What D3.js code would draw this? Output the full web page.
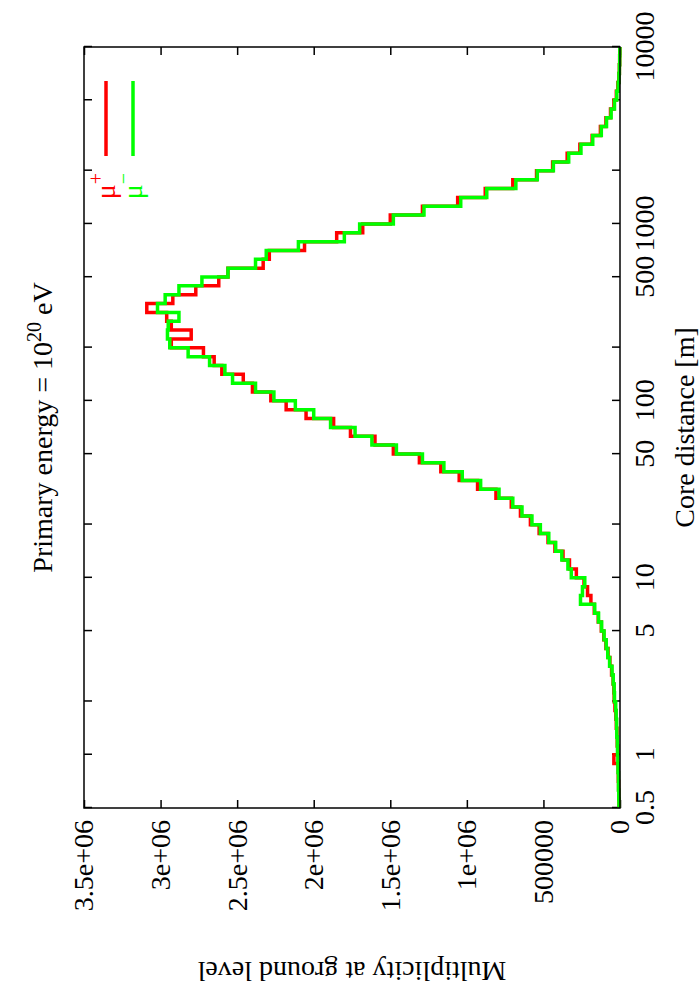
<!DOCTYPE html>
<html>
<head>
<meta charset="utf-8">
<script src="https://cdn.jsdelivr.net/npm/d3@7"></script>
<style>
body{margin:0;background:#fff}
svg text{font-family:"Liberation Serif","Times New Roman",serif}
</style>
</head>
<body>
<svg id="chart" width="700" height="1000"></svg>
<script>

// bin edges, log10 of core distance [m]
var logEdges = [-0.30,-0.25,-0.20,-0.15,-0.10,-0.05,0.00,0.05,0.10,0.15,
                0.20,0.25,0.30,0.35,0.40,0.45,0.50,0.55,0.60,0.65,
                0.70,0.75,0.80,0.85,0.90,0.95,1.00,1.05,1.10,1.15,
                1.20,1.25,1.30,1.35,1.40,1.45,1.50,1.55,1.60,1.65,
                1.70,1.75,1.80,1.85,1.90,1.95,2.00,2.05,2.10,2.15,
                2.20,2.25,2.30,2.35,2.40,2.45,2.50,2.55,2.60,2.65,
                2.70,2.75,2.80,2.85,2.90,2.95,3.00,3.05,3.10,3.15,
                3.20,3.25,3.30,3.35,3.40,3.45,3.50,3.55,3.60,3.65,
                3.70,3.75,3.80,3.85,3.90,3.95,4.00]

// multiplicity per bin, in thousands
var muPlus = [6,8,9,11,12,40,15,18,20,24,
              27,33,38,40,45,55,66,78,92,106,
              122,142,168,190,212,235,285,330,372,425,
              470,528,585,650,710,810,930,1050,1170,1310,
              1480,1600,1760,1870,2050,2180,2280,2400,2460,2600,
              2650,2720,2930,2800,2930,2960,3090,2920,2770,2620,
              2560,2330,2290,2060,1850,1680,1500,1290,1060,880,
              700,545,440,345,262,182,128,92,62,40,
              24,14,8,4,2,1]

var muMinus = [7,8,10,10,13,14,16,17,21,22,
               25,28,36,38,44,52,68,80,90,104,
               120,140,165,258,245,230,318,340,380,420,
               465,520,575,640,700,790,910,1030,1150,1290,
               1460,1620,1730,1890,2000,2120,2260,2380,2530,2580,
               2680,2820,2940,2955,2950,2880,3020,2970,2880,2730,
               2560,2380,2310,2100,1800,1700,1480,1280,1040,870,
               680,540,435,335,255,178,122,88,58,36,
               21,12,7,4,2,1]

var xTicks = [0.5,1,2,5,10,20,50,100,200,500,1000,2000,5000,10000]
var xTickLabels = ["0.5","1","","5","10","","50","100","","500","1000","","","10000"]
var yTicks = [0,500,1000,1500,2000,2500,3000,3500]
var yTickLabels = ["0","500000","1e+06","1.5e+06","2e+06","2.5e+06","3e+06","3.5e+06"]

var series = [
    {name:"\u03bc", sup:"+", color:"#ff0000", values:muPlus},
    {name:"\u03bc", sup:"\u2212", color:"#00ff00", values:muMinus}
]

// the whole plot is drawn landscape (1000 x 700) and turned a quarter left
var pLeft = 192, pRight = 953, pTop = 84, pBottom = 620

var svg = d3.select("#chart")
var g = svg.append("g").attr("transform","translate(0,1000) rotate(-90)")

var x = d3.scaleLog().domain([0.5,10000]).range([pLeft,pRight])
var y = d3.scaleLinear().domain([0,3500]).range([pBottom,pTop])

function styleAxis(a){
    a.select(".domain").remove()
    a.attr("font-size",28).attr("font-family","Liberation Serif, Times New Roman, serif")
    a.selectAll("line").attr("stroke","#000").attr("stroke-width",1.5)
    a.selectAll("text").attr("fill","#000")
}

g.append("g")
    .attr("transform","translate(0,"+pBottom+")")
    .call(d3.axisBottom(x).tickValues(xTicks)
        .tickFormat(function(d,i){return xTickLabels[i]})
        .tickSizeInner(-8).tickSizeOuter(0).tickPadding(14))
    .call(styleAxis)

g.append("g")
    .attr("transform","translate(0,"+pTop+")")
    .call(d3.axisTop(x).tickValues(xTicks).tickFormat("")
        .tickSizeInner(-8).tickSizeOuter(0))
    .call(styleAxis)

g.append("g")
    .attr("transform","translate("+pLeft+",0)")
    .call(d3.axisLeft(y).tickValues(yTicks)
        .tickFormat(function(d,i){return yTickLabels[i]})
        .tickSizeInner(-8).tickSizeOuter(0).tickPadding(12))
    .call(styleAxis)

g.append("g")
    .attr("transform","translate("+pRight+",0)")
    .call(d3.axisRight(y).tickValues(yTicks).tickFormat("")
        .tickSizeInner(-8).tickSizeOuter(0))
    .call(styleAxis)

// data, histogram steps
var line = d3.line()
    .x(function(d){return x(Math.pow(10,d[0]))})
    .y(function(d){return y(d[1])})
    .curve(d3.curveStepAfter)

series.forEach(function(s){
    var pts = s.values.map(function(v,i){return [logEdges[i],v]})
    pts.push([logEdges[logEdges.length-1], s.values[s.values.length-1]])
    g.append("path")
        .attr("d",line(pts))
        .attr("fill","none")
        .attr("stroke",s.color)
        .attr("stroke-width",3.5)
})

// frame
g.append("rect")
    .attr("x",pLeft).attr("y",pTop)
    .attr("width",pRight-pLeft).attr("height",pBottom-pTop)
    .attr("fill","none").attr("stroke","#000").attr("stroke-width",1.5)

// key
series.forEach(function(s,i){
    var ky = 106 + i*27
    g.append("line")
        .attr("x1",844).attr("x2",919)
        .attr("y1",ky).attr("y2",ky)
        .attr("stroke",s.color).attr("stroke-width",3.5)
    var t = g.append("text")
        .attr("x",827).attr("y",ky+9)
        .attr("text-anchor","end")
        .attr("font-size",28)
        .attr("fill",s.color)
    t.append("tspan").text(s.name)
    t.append("tspan").attr("font-size",20).attr("dy",-12).text(s.sup)
})

// title
var title = g.append("text")
    .attr("x",(pLeft+pRight)/2).attr("y",52)
    .attr("text-anchor","middle")
    .attr("font-size",28)
title.append("tspan").text("Primary energy = 10")
title.append("tspan").attr("font-size",20).attr("dy",-11).text("20")
title.append("tspan").attr("dy",11).text(" eV")

// axis labels
g.append("text")
    .attr("x",(pLeft+pRight)/2).attr("y",694)
    .attr("text-anchor","middle")
    .attr("font-size",28)
    .text("Core distance [m]")

g.append("text")
    .attr("transform","translate(38,"+((pTop+pBottom)/2)+") rotate(-90)")
    .attr("text-anchor","middle")
    .attr("font-size",28)
    .text("Multiplicity at ground level")

</script>
</body>
</html>
